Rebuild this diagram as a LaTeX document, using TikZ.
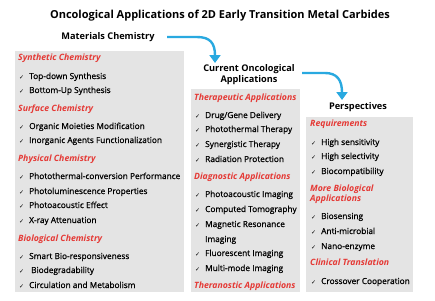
\documentclass[tikz,border=0pt]{standalone}
\usepackage{fontspec}
\setmainfont{Open Sans}
\newfontfamily\itemfont{Open Sans}[FakeBold=0.8]
\newfontfamily\dejavu{DejaVu Sans}
\usetikzlibrary{arrows.meta}
\definecolor{boxgray}{RGB}{228,228,228}
\definecolor{hdred}{RGB}{229,57,53}
\definecolor{arrblue}{RGB}{41,169,224}
\newcommand\ck{\makebox[10pt][l]{\dejavu\fontsize{6}{7}\selectfont ✓}}
\begin{document}
\begin{tikzpicture}[x=1pt,y=-1pt,
  box/.style={fill=boxgray,draw=none},
  it/.style={anchor=base west,inner sep=0pt,font=\itemfont\fontsize{8.3}{10}\selectfont,align=left},
  hd/.style={anchor=base west,inner sep=0pt,font=\fontsize{8.7}{10}\selectfont\bfseries\itshape,text=hdred,align=left},
  sec/.style={inner sep=0pt,font=\fontsize{9.2}{11}\selectfont\bfseries,align=center},
  flow/.style={line width=2.4pt,draw=arrblue,-{Triangle[width=11pt,length=8pt]}}]
\useasboundingbox (0,0) rectangle (435,300);
\fill[white] (0,0) rectangle (435,300);
% title and section names
\node[inner sep=0pt,font=\fontsize{11}{13}\selectfont\bfseries] (title) at (220,16) {Oncological Applications of 2D Early Transition Metal Carbides};
\node[sec] (mat) at (108,37) {Materials Chemistry};
\node[sec] (cur) at (249,75) {Current Oncological\\Applications};
\node[sec] (per) at (358,107) {Perspectives};
% boxes
\fill[box] (15,51) rectangle (184,292);
\fill[box] (191,89) rectangle (300,292);
\fill[box] (306,117) rectangle (413,292);
% box 1
\node[hd] (h11) at (18,60) {Synthetic Chemistry};
\node[it] (a11) at (19,79) {\ck Top-down Synthesis};
\node[it] (a12) at (19,93) {\ck Bottom-Up Synthesis};
\node[hd] (h12) at (18,111) {Surface Chemistry};
\node[it] (a13) at (19,129) {\ck Organic Moieties Modification};
\node[it] (a14) at (19,143) {\ck Inorganic Agents Functionalization};
\node[hd] (h13) at (18,161) {Physical Chemistry};
\node[it] (a15) at (19,179) {\ck Photothermal-conversion Performance};
\node[it] (a16) at (19,194) {\ck Photoluminescence Properties};
\node[it] (a17) at (19,208) {\ck Photoacoustic Effect};
\node[it] (a18) at (19,223) {\ck X-ray Attenuation};
\node[hd] (h14) at (18,241) {Biological Chemistry};
\node[it] (a19) at (19,259) {\ck Smart Bio-responsiveness};
\node[it] (a110) at (19,273) {\ck\hspace{2pt}Biodegradability};
\node[it] (a111) at (19,288) {\ck Circulation and Metabolism};
% box 2
\node[hd] (h21) at (194,100) {Therapeutic Applications};
\node[it] (a21) at (195,118) {\ck Drug/Gene Delivery};
\node[it] (a22) at (195,132) {\ck Photothermal Therapy};
\node[it] (a23) at (195,147) {\ck Synergistic Therapy};
\node[it] (a24) at (195,162) {\ck Radiation Protection};
\node[hd] (h22) at (194,179) {Diagnostic Applications};
\node[it] (a25) at (195,197) {\ck Photoacoustic Imaging};
\node[it] (a26) at (195,212) {\ck Computed Tomography};
\node[it] (a27) at (195,242) {\ck Magnetic Resonance\\[5pt]\hspace*{10pt}Imaging};
\node[it] (a28) at (195,256) {\ck Fluorescent Imaging};
\node[it] (a29) at (195,271) {\ck Multi-mode Imaging};
\node[hd] (h23) at (194,288) {Theranostic Applications};
% box 3
\node[hd] (h31) at (310,126) {Requirements};
\node[it] (a31) at (311,145) {\ck High sensitivity};
\node[it] (a32) at (311,159) {\ck High selectivity};
\node[it] (a33) at (311,174) {\ck Biocompatibility};
\node[hd] (h32) at (310,201) {More Biological\\Applications};
\node[it] (a34) at (311,219) {\ck Biosensing};
\node[it] (a35) at (311,234) {\ck Anti-microbial};
\node[it] (a36) at (311,249) {\ck Nano-enzyme};
\node[hd] (h33) at (310,265) {Clinical Translation};
\node[it] (a37) at (311,284) {\ck Crossover Cooperation};
% arrows
\coordinate (s1) at (167,37);
\coordinate (e1) at (215,63);
\coordinate (s2) at (302,73);
\coordinate (e2) at (342,100);
\draw[flow] (s1) -- (197,37) .. controls (210,37) and (215,43) .. (e1);
\draw[flow] (s2) -- (325,73) .. controls (337,73) and (342,80) .. (e2);
\end{tikzpicture}
\end{document}
